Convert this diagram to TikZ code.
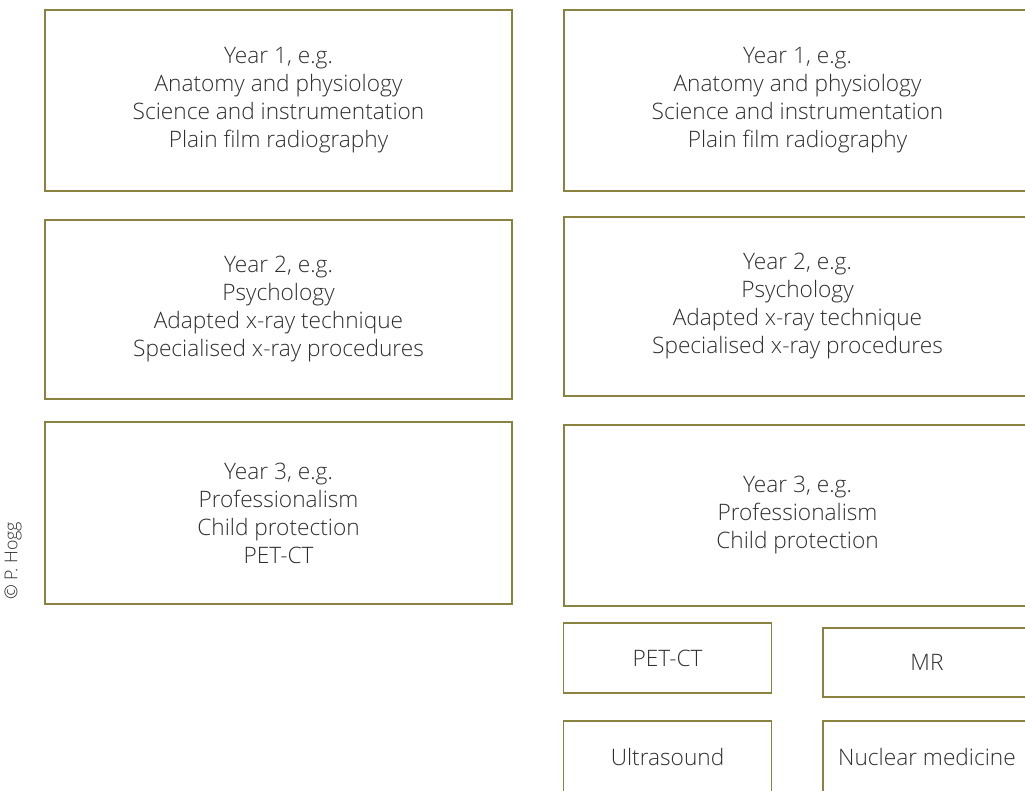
\documentclass[tikz,border=0pt]{standalone}
\usepackage{fontspec}
\IfFontExistsTF{Open Sans Light}{\setmainfont{Open Sans Light}}{\setmainfont{Open Sans}}
\definecolor{frameolive}{HTML}{8A8240}
\definecolor{inkgrey}{HTML}{2E2E2E}
\begin{document}
\begin{tikzpicture}[x=0.75pt,y=-0.75pt,
  box/.style 2 args={draw=frameolive, line width=1.1pt, text=inkgrey,
    minimum width={#1*0.75pt}, minimum height={#2*0.75pt},
    align=center, inner sep=0pt, font=\fontsize{17}{21}\selectfont}]
\useasboundingbox (0,0) rectangle (1025,791);
\clip (0,0) rectangle (1025,791);

% left column: three years
\node[box={467}{181}] (l1) at (278.5,100.5) {Year 1, e.g.\\Anatomy and physiology\\Science and instrumentation\\Plain film radiography};
\node[box={467}{179}] (l2) at (278.5,309.5) {Year 2, e.g.\\Psychology\\Adapted x-ray technique\\Specialised x-ray procedures};
\node[box={467}{182}] (l3) at (278.5,513) {Year 3, e.g.\\Professionalism\\Child protection\\PET-CT};

% right column: three years plus modality options
\node[box={467}{181}] (r1) at (797.5,100.5) {Year 1, e.g.\\Anatomy and physiology\\Science and instrumentation\\Plain film radiography};
\node[box={467}{179}] (r2) at (797.5,306.5) {Year 2, e.g.\\Psychology\\Adapted x-ray technique\\Specialised x-ray procedures};
\node[box={467}{181}] (r3) at (797.5,515.5) {Year 3, e.g.\\Professionalism\\Child protection};

\node[box={208}{70}] (pet) at (667.5,658) {PET-CT};
\node[box={208}{69}] (mr) at (927,662.5) {MR};
\node[box={208}{72}] (us) at (667.5,757) {Ultrasound};
\node[box={208}{72}] (nm) at (927,757) {Nuclear medicine};

% copyright line
\node[rotate=90, text=inkgrey, font=\fontsize{13.3}{15}\selectfont] (copy) at (13,561) {© P. Hogg};
\end{tikzpicture}
\end{document}
